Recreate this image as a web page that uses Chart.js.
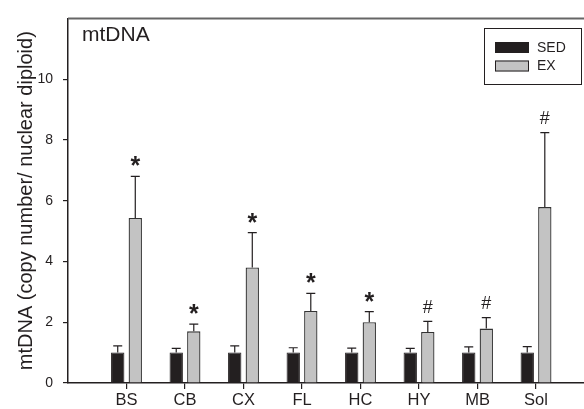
<!DOCTYPE html>
<html>
<head>
<meta charset="utf-8">
<script src="https://cdn.jsdelivr.net/npm/chart.js@4/dist/chart.umd.min.js"></script>
<style>
  body { margin: 0; background: #fff; }
  #wrap { width: 584px; height: 409px; }
</style>
</head>
<body>
<div id="wrap"><canvas id="grafik" width="584" height="409"></canvas></div>
<script>
const categories = ["BS", "CB", "CX", "FL", "HC", "HY", "MB", "Sol"];
const sedMean = [1, 1, 1, 1, 1, 1, 1, 1];
const sedErr = [0.22, 0.14, 0.22, 0.16, 0.15, 0.14, 0.19, 0.20];
const exMean = [5.43, 1.70, 3.80, 2.37, 2.00, 1.68, 1.79, 5.79];
const exErr = [1.37, 0.24, 1.15, 0.58, 0.35, 0.35, 0.36, 2.45];
const exMarks = ["*", "*", "*", "*", "*", "#", "#", "#"];
const yTicks = [0, 2, 4, 6, 8, 10];

const FONT = "'Liberation Sans', Arial, sans-serif";
const INK = "#231f20";

// error bars, significance marks, top frame line and the legend box
const extras = {
  id: "extras",
  afterDatasetsDraw(chart) {
    const ctx = chart.ctx;
    const y = chart.scales.y;
    const area = chart.chartArea;
    const errs = [sedErr, exErr];

    ctx.save();
    ctx.strokeStyle = INK;
    ctx.lineWidth = 1.2;
    chart.data.datasets.forEach((ds, d) => {
      chart.getDatasetMeta(d).data.forEach((bar, i) => {
        const top = y.getPixelForValue(ds.data[i].y + errs[d][i]);
        ctx.beginPath();
        ctx.moveTo(bar.x, bar.y);
        ctx.lineTo(bar.x, top);
        ctx.moveTo(bar.x - 4.5, top);
        ctx.lineTo(bar.x + 4.5, top);
        ctx.stroke();
      });
    });

    // * and # above the EX bars
    ctx.fillStyle = INK;
    ctx.textAlign = "center";
    ctx.textBaseline = "alphabetic";
    chart.getDatasetMeta(1).data.forEach((bar, i) => {
      const mark = exMarks[i];
      ctx.font = (mark === "*" ? "bold 25px " : "18px ") + FONT;
      const m = ctx.measureText(mark);
      const top = y.getPixelForValue(exMean[i] + exErr[i]);
      const mid = top - 15;
      ctx.fillText(mark, bar.x, mid + (m.actualBoundingBoxAscent - m.actualBoundingBoxDescent) / 2);
    });

    // top frame line
    ctx.strokeStyle = "#666";
    ctx.lineWidth = 2;
    ctx.beginPath();
    ctx.moveTo(area.left, area.top);
    ctx.lineTo(area.right, area.top);
    ctx.stroke();

    // panel label
    ctx.fillStyle = INK;
    ctx.font = "21px " + FONT;
    ctx.textAlign = "left";
    ctx.textBaseline = "middle";
    ctx.fillText("mtDNA", 82, 35);

    // legend
    ctx.strokeStyle = INK;
    ctx.lineWidth = 1;
    ctx.strokeRect(484.5, 28.5, 97, 56);
    ctx.font = "14px " + FONT;
    chart.data.datasets.forEach((ds, d) => {
      const sy = 42 + d * 18.5;
      ctx.fillStyle = ds.backgroundColor;
      ctx.fillRect(495, sy, 34, 11);
      ctx.strokeRect(495.5, sy + 0.5, 33, 10);
      ctx.fillStyle = INK;
      ctx.fillText(ds.label, 537, sy + 6);
    });
    ctx.restore();
  }
};

const ctx = document.getElementById("grafik").getContext("2d");
new Chart(ctx, {
  type: "bar",
  data: {
    datasets: [
      {
        label: "SED",
        data: sedMean.map((v, i) => ({ x: i + 1, y: v })),
        backgroundColor: INK,
        borderColor: INK,
        borderWidth: 1
      },
      {
        label: "EX",
        data: exMean.map((v, i) => ({ x: i + 1, y: v })),
        backgroundColor: "#c3c3c3",
        borderColor: "#333",
        borderWidth: 1.3
      }
    ]
  },
  options: {
    responsive: false,
    animation: false,
    categoryPercentage: 0.6,
    barPercentage: 0.76,
    layout: { padding: { top: 14, right: 0, left: 0, bottom: 0 } },
    plugins: { legend: { display: false }, tooltip: { enabled: false } },
    scales: {
      x: {
        type: "linear",
        min: 0,
        max: 8.82,
        offset: false,
        grid: { offset: false, drawOnChartArea: false, tickLength: 6, color: INK, lineWidth: 1.2 },
        border: { color: INK, width: 1.5 },
        afterBuildTicks: (s) => { s.ticks = categories.map((c, i) => ({ value: i + 1 })); },
        afterFit: (s) => { s.height = 26; },
        ticks: {
          autoSkip: false,
          maxRotation: 0,
          padding: 2,
          color: INK,
          font: { family: FONT, size: 16.5 },
          callback: (v) => categories[v - 1]
        }
      },
      y: {
        min: 0,
        max: 12,
        grid: { drawOnChartArea: false, tickLength: 5, color: INK, lineWidth: 1.2 },
        border: { color: INK, width: 1.5 },
        afterBuildTicks: (s) => { s.ticks = yTicks.map((v) => ({ value: v })); },
        afterFit: (s) => { s.width = 68; },
        ticks: { padding: 10, color: INK, font: { family: FONT, size: 14 } },
        title: {
          display: true,
          text: "mtDNA (copy number/ nuclear diploid)",
          color: INK,
          font: { family: FONT, size: 20 },
          padding: { top: 14, bottom: 0 }
        }
      }
    }
  },
  plugins: [extras]
});
</script>
</body>
</html>
